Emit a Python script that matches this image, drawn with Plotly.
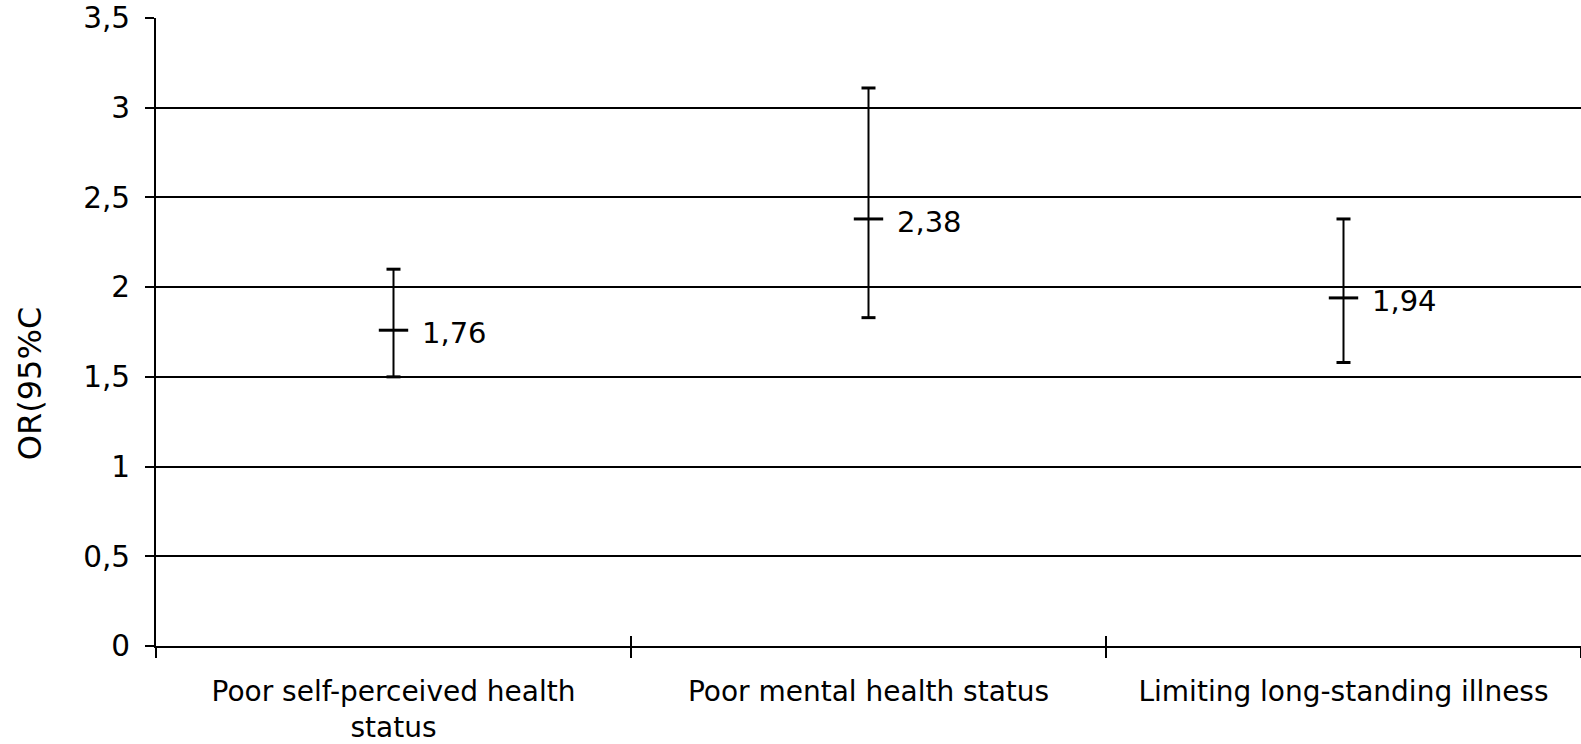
import plotly.graph_objects as go

categories = ["Poor self-perceived health<br>status", "Poor mental health status", "Limiting long-standing illness"]
odds_ratio = [1.76, 2.38, 1.94]
ci_lower = [1.50, 1.83, 1.58]
ci_upper = [2.10, 3.11, 2.38]
y_ticks = [0, 0.5, 1, 1.5, 2, 2.5, 3, 3.5]

FONT = "DejaVu Sans, Verdana, sans-serif"

fig = go.Figure()

# point estimates with vertical CI lines
fig.add_trace(go.Scatter(
    x=categories, y=odds_ratio, mode="markers",
    marker=dict(symbol="line-ew", size=21, line=dict(width=3, color="black")),
    error_y=dict(type="data", symmetric=False,
                 array=[u - m for u, m in zip(ci_upper, odds_ratio)],
                 arrayminus=[m - l for m, l in zip(odds_ratio, ci_lower)],
                 color="black", thickness=2, width=0),
    hoverinfo="skip", showlegend=False,
))
# CI caps
fig.add_trace(go.Scatter(
    x=categories + categories, y=ci_upper + ci_lower, mode="markers",
    marker=dict(symbol="line-ew", size=10, line=dict(width=3, color="black")),
    hoverinfo="skip", showlegend=False,
))

for c, v in zip(categories, odds_ratio):
    fig.add_annotation(x=c, y=v, text=f"{v:.2f}".replace(".", ","), showarrow=False,
                       xanchor="left", yanchor="middle", xshift=26, yshift=-3,
                       font=dict(family=FONT, size=29, color="black"))

fig.add_annotation(x=-0.0884, y=0.417, xref="paper", yref="paper", text="OR(95%C",
                   textangle=-90, showarrow=False, xanchor="center", yanchor="middle",
                   font=dict(family=FONT, size=32, color="black"))

axis_common = dict(type="category", categoryarray=categories, range=[-0.5, 2.5])

fig.update_layout(
    width=1581, height=744,
    margin=dict(l=156, r=0, t=18, b=98),
    paper_bgcolor="white", plot_bgcolor="white",
    separators=", ",
    font=dict(family=FONT, size=29, color="black"),
    xaxis=dict(**axis_common, tickson="boundaries", ticks="outside", ticklen=10,
               tickwidth=1.5, tickcolor="black", showline=True, linecolor="black",
               linewidth=2, showgrid=False, ticklabelstandoff=19,
               tickfont=dict(family=FONT, size=28, color="black")),
    xaxis2=dict(**axis_common, overlaying="x", matches="x", side="bottom",
                tickson="boundaries", ticks="inside", ticklen=10, tickwidth=1.5,
                tickcolor="black", showticklabels=False, showgrid=False, showline=False),
    yaxis=dict(range=[0, 3.5], tickvals=y_ticks, ticks="outside", ticklen=9,
               tickwidth=1.5, tickcolor="black", showline=True, linecolor="black",
               linewidth=2, showgrid=True, gridcolor="black", gridwidth=2,
               zeroline=False, ticklabelstandoff=9,
               tickfont=dict(family=FONT, size=29.5, color="black")),
)

# empty trace to draw the inner tick marks on the overlay axis
fig.add_trace(go.Scatter(x=categories, y=[None] * 3, xaxis="x2", mode="markers",
                         hoverinfo="skip", showlegend=False))

fig.write_html("out.html")
